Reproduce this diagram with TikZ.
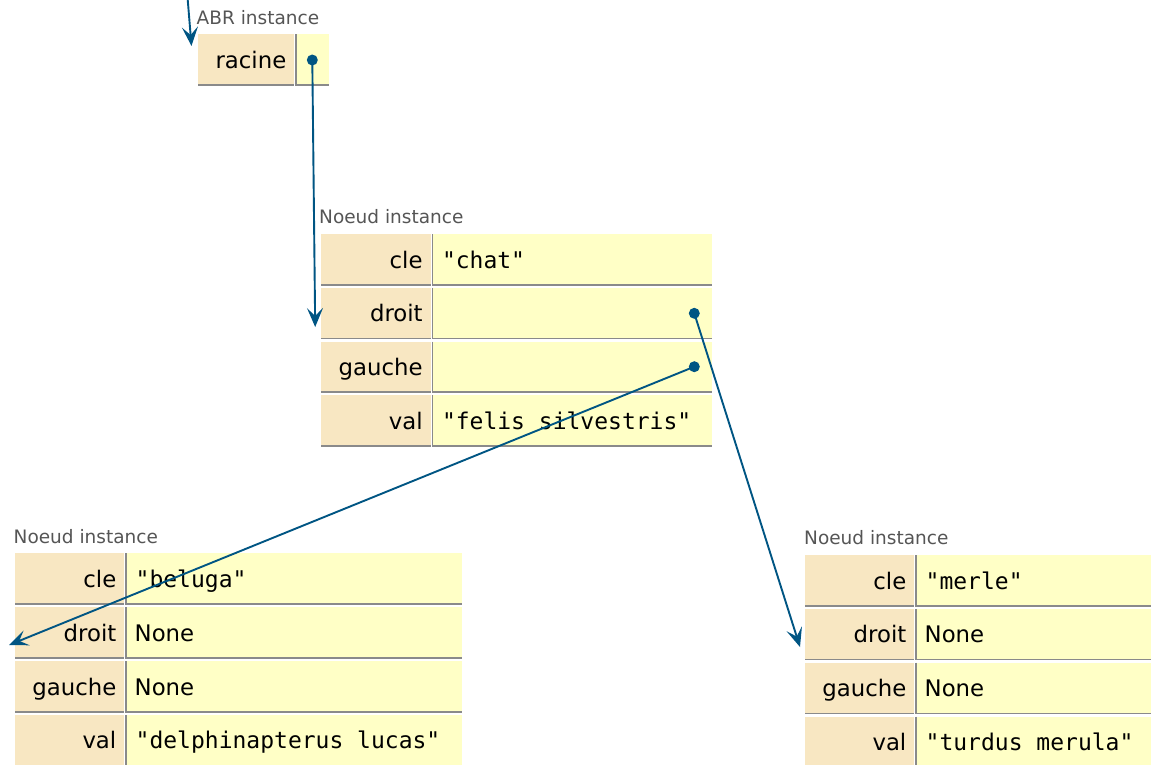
\documentclass[tikz,border=0pt]{standalone}
\usepackage{fontspec}
\setmainfont{DejaVu Sans}
\newfontfamily\codefont{DejaVu Sans Mono}
\usetikzlibrary{arrows.meta}

\definecolor{keybg}{HTML}{F8E7C2}
\definecolor{valbg}{HTML}{FFFFC6}
\definecolor{rulegray}{HTML}{8A8A8A}
\definecolor{typegray}{HTML}{555555}
\definecolor{ptrblue}{HTML}{005583}

\tikzset{
  keycell/.style={fill=keybg, draw=none},
  valcell/.style={fill=valbg, draw=none},
  cellrule/.style={draw=rulegray, line width=1.6pt},
  keytext/.style={anchor=base east, inner sep=0pt, font=\fontsize{22.8}{27}\selectfont},
  valtext/.style={anchor=base west, inner sep=0pt, font=\fontsize{22.8}{27}\selectfont},
  codetext/.style={anchor=base west, inner sep=0pt, xshift=1pt, font=\codefont\fontsize{23}{27}\selectfont},
  typelabel/.style={anchor=base west, inner sep=0pt, text=typegray, font=\fontsize{18.5}{22}\selectfont},
  refdot/.style={circle, fill=ptrblue, inner sep=0pt, minimum size=11pt},
  ptr/.style={draw=ptrblue, line width=1.9pt,
    -{Stealth[length=19pt, width=16pt, inset=8pt]}},
}

% One attribute row of an instance: #1 name, #2 left x, #3 x of the
% separating rule, #4 right x, #5 top y, #6 attribute, #7 value (with style)
\newcommand\fieldrow[7]{%
  \path[keycell] (#2,#5) rectangle (#3-1.6,#5+50);
  \path[valcell] (#3+0.75,#5) rectangle (#4,#5+50);
  \draw[cellrule] (#3,#5) -- (#3,#5+51.5);
  \draw[cellrule] (#2,#5+50.75) -- (#3-1.6,#5+50.75);
  \draw[cellrule] (#3+0.75,#5+50.75) -- (#4,#5+50.75);
  \node[keytext] (#1k) at (#3-9.5,#5+34) {#6};
  \node (#1v) at (#3+8.5,#5+34) #7;
}

\begin{document}
\begin{tikzpicture}[x=1pt, y=-1pt]
\useasboundingbox (0,0) rectangle (1151,764);

% ABR instance
\node[typelabel] (abrlabel) at (196.5,24.5) {ABR instance};
\fieldrow{racine}{198.3}{296}{329.3}{34.3}{racine}{{}}
\node[refdot] (racinedot) at (312.3,60) {};

% Noeud "chat"
\node[typelabel] (chatlabel) at (319,223.3) {Noeud instance};
\fieldrow{chatcle}{321}{432.3}{711.5}{234}{cle}{[codetext] {"chat"}}
\fieldrow{chatdroit}{321}{432.3}{711.5}{287.7}{droit}{{}}
\fieldrow{chatgauche}{321}{432.3}{711.5}{341.5}{gauche}{{}}
\fieldrow{chatval}{321}{432.3}{711.5}{395.2}{val}{[codetext] {"felis silvestris"}}
\node[refdot] (droitdot) at (694.3,313.3) {};
\node[refdot] (gauchedot) at (694.3,366.7) {};

% Noeud "beluga"
\node[typelabel] (belugalabel) at (13.5,543) {Noeud instance};
\fieldrow{belcle}{15}{126}{461.7}{553.3}{cle}{[codetext] {"beluga"}}
\fieldrow{beldroit}{15}{126}{461.7}{607.2}{droit}{[valtext] {None}}
\fieldrow{belgauche}{15}{126}{461.7}{661}{gauche}{[valtext] {None}}
\fieldrow{belval}{15}{126}{461.7}{714.8}{val}{[codetext] {"delphinapterus lucas"}}

% Noeud "merle"
\node[typelabel] (merlelabel) at (804,544.5) {Noeud instance};
\fieldrow{mercle}{805}{916}{1151}{555}{cle}{[codetext] {"merle"}}
\fieldrow{merdroit}{805}{916}{1151}{608.8}{droit}{[valtext] {None}}
\fieldrow{mergauche}{805}{916}{1151}{662.6}{gauche}{[valtext] {None}}
\fieldrow{merval}{805}{916}{1151}{716.5}{val}{[codetext] {"turdus merula"}}

% pointer ends
\coordinate (frameref) at (187.5,-3);
\coordinate (abrin) at (191.5,46);
\coordinate (chatin) at (315.2,327);
\coordinate (belugain) at (9,645);
\coordinate (merlein) at (800,647);

% references
\draw[ptr] (frameref) -- (abrin);
\draw[ptr] (racinedot.center) -- (chatin);
\draw[ptr] (droitdot.center) -- (merlein);
\draw[ptr] (gauchedot.center) -- (belugain);
\end{tikzpicture}
\end{document}
